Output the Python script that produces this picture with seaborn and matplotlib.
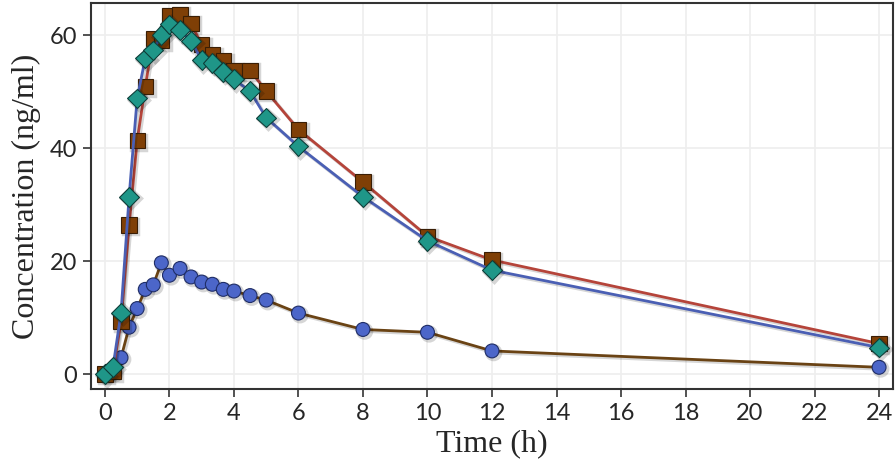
import matplotlib
matplotlib.use('Agg')
import matplotlib.pyplot as plt
import matplotlib.patheffects as pe
import pandas as pd
import seaborn as sns

# Sampling times (h)
times = [0, 0.25, 0.5, 0.75, 1, 1.25, 1.5, 1.75, 2, 2.33, 2.67, 3, 3.33, 3.67,
         4, 4.5, 5, 6, 8, 10, 12, 24]

# Mean concentrations (ng/ml)
conc_square = [0, 0.5, 9.3, 26.4, 41.3, 50.9, 59.4, 59.0, 63.5, 63.7, 62.1, 58.3,
               56.5, 55.5, 53.8, 53.8, 50.1, 43.3, 34.0, 24.4, 20.2, 5.4]
conc_diamond = [0, 1.2, 10.9, 31.4, 48.8, 55.9, 57.3, 60.0, 61.9, 60.9, 59.0, 55.6,
                55.1, 53.5, 52.2, 50.1, 45.4, 40.3, 31.4, 23.6, 18.4, 4.7]
conc_circle = [0, 0.3, 2.9, 8.3, 11.6, 15.0, 15.8, 19.7, 17.5, 18.7, 17.2, 16.3,
               15.9, 15.0, 14.7, 13.9, 13.1, 10.8, 7.9, 7.4, 4.1, 1.2]

x_ticks = list(range(0, 25, 2))
y_ticks = [0, 20, 40, 60]

df = pd.DataFrame({'time': times, 'square': conc_square,
                   'diamond': conc_diamond, 'circle': conc_circle})

sns.set_style('white')
plt.rcParams['font.family'] = ['Lato', 'DejaVu Sans']

fig = plt.figure(figsize=(8.96, 4.71), dpi=100)
ax = fig.add_axes([0.1016, 0.174, 0.895, 0.8196])

# soft drop shadow under lines and markers
shadow = [pe.SimpleLineShadow(offset=(1.2, -1.2), shadow_color='k', alpha=0.16, linewidth=2.5),
          pe.Normal()]

# Lower profile: blue circles joined by a brown line
sns.lineplot(data=df, x='time', y='circle', ax=ax, estimator=None, sort=False,
             color='#6a4314', linewidth=2, marker='o', markersize=10,
             markerfacecolor='#4c66c9', markeredgecolor='#1f2d66',
             markeredgewidth=0.8, zorder=3)
# Brown squares, red line
sns.lineplot(data=df, x='time', y='square', ax=ax, estimator=None, sort=False,
             color='#b5443a', linewidth=2, marker='s', markersize=11,
             markerfacecolor='#7f3f06', markeredgecolor='#3a1e05',
             markeredgewidth=0.8, zorder=4)
# Teal diamonds, blue line
sns.lineplot(data=df, x='time', y='diamond', ax=ax, estimator=None, sort=False,
             color='#4a5fb4', linewidth=2, marker='D', markersize=10,
             markerfacecolor='#1f9688', markeredgecolor='#0d3d38',
             markeredgewidth=0.8, zorder=5)

for line in ax.lines:
    line.set_path_effects(shadow)

ax.set_xlim(-0.43, 24.43)
ax.set_ylim(-2.65, 65.7)
ax.set_xticks(x_ticks)
ax.set_yticks(y_ticks)
ax.grid(True, color='#eeeeee', linewidth=1.2)
ax.set_axisbelow(True)

for s in ax.spines.values():
    s.set_color('#333333')
    s.set_linewidth(1.5)

ax.tick_params(axis='both', direction='out', length=6, width=1.3,
               color='#444444', labelsize=17, pad=4, left=True, bottom=True)

ax.set_xlabel('Time (h)', fontsize=23, family=['Liberation Serif'], labelpad=4)
ax.set_ylabel('Concentration (ng/ml)', fontsize=23, family=['Liberation Serif'], labelpad=6)

fig.savefig('out.png', dpi=100)
